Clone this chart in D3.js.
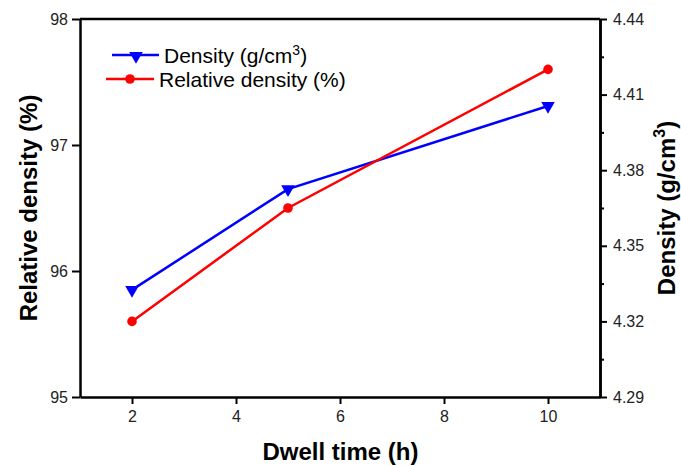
<!DOCTYPE html>
<html>
<head>
<meta charset="utf-8">
<script src="https://cdn.jsdelivr.net/npm/d3@7"></script>
<style>
  html, body { margin: 0; padding: 0; background: #fff; }
  svg { display: block; font-family: "Liberation Sans", Arial, sans-serif; }
</style>
</head>
<body>
<svg id="chart" width="681" height="466"></svg>
<script>
// Dwell time (h)
const dwellTime = [2, 5, 10];
// Relative density (%)
const relativeDensity = [95.6, 96.5, 97.6];
// Density (g/cm3)
const density = [4.3325, 4.3725, 4.4055];

const xTicks = [2, 4, 6, 8, 10];
const leftTicks = [95, 96, 97, 98];
const rightTicks = [4.29, 4.32, 4.35, 4.38, 4.41, 4.44];
const rightMinor = [4.305, 4.335, 4.365, 4.395, 4.425];

const svg = d3.select("#chart");
const m = { left: 80, right: 600, top: 19, bottom: 397 };

const x = d3.scaleLinear().domain([1, 11]).range([m.left, m.right]);
const yL = d3.scaleLinear().domain([95, 98]).range([m.bottom, m.top]);
const yR = d3.scaleLinear().domain([4.29, 4.44]).range([m.bottom, m.top]);

const labelColor = "#222";

function styleAxis(g) {
  g.select(".domain").attr("stroke", "#000").attr("stroke-width", 2.5);
  g.selectAll(".tick line").attr("stroke", "#000").attr("stroke-width", 2);
  g.selectAll(".tick text").attr("fill", labelColor).style("font-size", "16px");
}

// frame top
svg.append("line")
  .attr("x1", m.left).attr("x2", m.right)
  .attr("y1", m.top).attr("y2", m.top)
  .attr("stroke", "#000").attr("stroke-width", 2.5);

// bottom axis
svg.append("g")
  .attr("transform", `translate(0,${m.bottom})`)
  .call(d3.axisBottom(x).tickValues(xTicks).tickSize(7).tickPadding(7).tickSizeOuter(0))
  .call(styleAxis);

// left axis
svg.append("g")
  .attr("transform", `translate(${m.left},0)`)
  .call(d3.axisLeft(yL).tickValues(leftTicks).tickSize(8).tickPadding(4)
    .tickFormat(d3.format("d")).tickSizeOuter(0))
  .call(styleAxis);

// right axis with minor ticks
svg.append("g")
  .attr("transform", `translate(${m.right},0)`)
  .call(d3.axisRight(yR).tickValues(rightMinor).tickSize(4).tickFormat("").tickSizeOuter(0))
  .call(styleAxis);
svg.append("g")
  .attr("transform", `translate(${m.right},0)`)
  .call(d3.axisRight(yR).tickValues(rightTicks).tickSize(7).tickPadding(6)
    .tickFormat(d3.format(".2f")).tickSizeOuter(0))
  .call(styleAxis);

// axis titles
svg.append("text")
  .attr("x", (m.left + m.right) / 2 + 0.5).attr("y", 460)
  .attr("text-anchor", "middle")
  .style("font-size", "24px").style("font-weight", "bold")
  .text("Dwell time (h)");

svg.append("text")
  .attr("transform", `translate(37,${(m.top + m.bottom) / 2}) rotate(-90)`)
  .attr("text-anchor", "middle")
  .style("font-size", "24px").style("font-weight", "bold")
  .text("Relative density (%)");

const rt = svg.append("text")
  .attr("transform", `translate(675,${(m.top + m.bottom) / 2}) rotate(-90)`)
  .attr("text-anchor", "middle")
  .style("font-size", "24px").style("font-weight", "bold");
rt.append("tspan").text("Density (g/cm");
rt.append("tspan").attr("dy", -10).style("font-size", "16px").text("3");
rt.append("tspan").attr("dy", 10).text(")");

// series
const tri = d3.symbol().type(d3.symbolTriangle).size(80);

const blueLine = d3.line().x((d, i) => x(dwellTime[i])).y(d => yR(d));
svg.append("path").datum(density)
  .attr("d", blueLine).attr("fill", "none")
  .attr("stroke", "#0000ff").attr("stroke-width", 2.5);
svg.selectAll(".tri").data(density).enter().append("path")
  .attr("d", tri)
  .attr("transform", (d, i) => `translate(${x(dwellTime[i])},${yR(d)}) rotate(180)`)
  .attr("fill", "#0000ff");

const redLine = d3.line().x((d, i) => x(dwellTime[i])).y(d => yL(d));
svg.append("path").datum(relativeDensity)
  .attr("d", redLine).attr("fill", "none")
  .attr("stroke", "#ff0000").attr("stroke-width", 2.5);
svg.selectAll(".dot").data(relativeDensity).enter().append("circle")
  .attr("cx", (d, i) => x(dwellTime[i])).attr("cy", d => yL(d))
  .attr("r", 4.8).attr("fill", "#ff0000");

// legend
const lg = svg.append("g");
lg.append("line").attr("x1", 112).attr("x2", 159).attr("y1", 55).attr("y2", 55)
  .attr("stroke", "#0000ff").attr("stroke-width", 2.5);
lg.append("path").attr("d", tri)
  .attr("transform", "translate(136,56) rotate(180)").attr("fill", "#0000ff");
const lt = lg.append("text").attr("x", 164).attr("y", 63).style("font-size", "21px").attr("fill", "#000");
lt.append("tspan").text("Density (g/cm");
lt.append("tspan").attr("dy", -8).style("font-size", "14px").text("3");
lt.append("tspan").attr("dy", 8).text(")");

lg.append("line").attr("x1", 106).attr("x2", 154).attr("y1", 79).attr("y2", 79)
  .attr("stroke", "#ff0000").attr("stroke-width", 2.5);
lg.append("circle").attr("cx", 130).attr("cy", 79).attr("r", 4.8).attr("fill", "#ff0000");
lg.append("text").attr("x", 159).attr("y", 87).style("font-size", "21px").attr("fill", "#000")
  .text("Relative density (%)");
</script>
</body>
</html>
